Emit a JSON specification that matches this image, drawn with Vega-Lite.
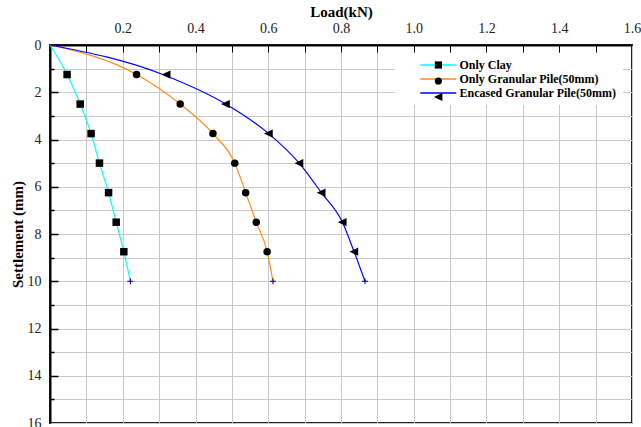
{
  "$schema": "https://vega.github.io/schema/vega-lite/v6.json",
  "width": 582,
  "height": 378,
  "autosize": "none",
  "padding": {"left": 50, "top": 45, "right": 9, "bottom": 4},
  "background": "white",
  "datasets": {
    "curves": [
      {"Series": "Only Clay", "Load": 0, "Settlement": 0},
      {"Series": "Only Clay", "Load": 0.047, "Settlement": 1.25},
      {"Series": "Only Clay", "Load": 0.083, "Settlement": 2.5},
      {"Series": "Only Clay", "Load": 0.113, "Settlement": 3.75},
      {"Series": "Only Clay", "Load": 0.136, "Settlement": 5},
      {"Series": "Only Clay", "Load": 0.161, "Settlement": 6.25},
      {"Series": "Only Clay", "Load": 0.182, "Settlement": 7.5},
      {"Series": "Only Clay", "Load": 0.203, "Settlement": 8.75},
      {"Series": "Only Clay", "Load": 0.221, "Settlement": 10},
      {"Series": "Only Granular Pile(50mm)", "Load": 0, "Settlement": 0},
      {"Series": "Only Granular Pile(50mm)", "Load": 0.238, "Settlement": 1.25},
      {"Series": "Only Granular Pile(50mm)", "Load": 0.358, "Settlement": 2.5},
      {"Series": "Only Granular Pile(50mm)", "Load": 0.448, "Settlement": 3.75},
      {"Series": "Only Granular Pile(50mm)", "Load": 0.508, "Settlement": 5},
      {"Series": "Only Granular Pile(50mm)", "Load": 0.538, "Settlement": 6.25},
      {"Series": "Only Granular Pile(50mm)", "Load": 0.567, "Settlement": 7.5},
      {"Series": "Only Granular Pile(50mm)", "Load": 0.597, "Settlement": 8.75},
      {"Series": "Only Granular Pile(50mm)", "Load": 0.613, "Settlement": 10},
      {"Series": "Encased Granular Pile(50mm)", "Load": 0, "Settlement": 0},
      {"Series": "Encased Granular Pile(50mm)", "Load": 0.31, "Settlement": 1.25},
      {"Series": "Encased Granular Pile(50mm)", "Load": 0.483, "Settlement": 2.5},
      {"Series": "Encased Granular Pile(50mm)", "Load": 0.601, "Settlement": 3.75},
      {"Series": "Encased Granular Pile(50mm)", "Load": 0.685, "Settlement": 5},
      {"Series": "Encased Granular Pile(50mm)", "Load": 0.746, "Settlement": 6.25},
      {"Series": "Encased Granular Pile(50mm)", "Load": 0.804, "Settlement": 7.5},
      {"Series": "Encased Granular Pile(50mm)", "Load": 0.836, "Settlement": 8.75},
      {"Series": "Encased Granular Pile(50mm)", "Load": 0.866, "Settlement": 10}
    ],
    "tests": [
      {"Series": "Only Clay", "Load": 0.047, "Settlement": 1.25},
      {"Series": "Only Clay", "Load": 0.083, "Settlement": 2.5},
      {"Series": "Only Clay", "Load": 0.113, "Settlement": 3.75},
      {"Series": "Only Clay", "Load": 0.136, "Settlement": 5},
      {"Series": "Only Clay", "Load": 0.161, "Settlement": 6.25},
      {"Series": "Only Clay", "Load": 0.182, "Settlement": 7.5},
      {"Series": "Only Clay", "Load": 0.203, "Settlement": 8.75},
      {"Series": "Only Granular Pile(50mm)", "Load": 0.238, "Settlement": 1.25},
      {"Series": "Only Granular Pile(50mm)", "Load": 0.358, "Settlement": 2.5},
      {"Series": "Only Granular Pile(50mm)", "Load": 0.448, "Settlement": 3.75},
      {"Series": "Only Granular Pile(50mm)", "Load": 0.508, "Settlement": 5},
      {"Series": "Only Granular Pile(50mm)", "Load": 0.538, "Settlement": 6.25},
      {"Series": "Only Granular Pile(50mm)", "Load": 0.567, "Settlement": 7.5},
      {"Series": "Only Granular Pile(50mm)", "Load": 0.597, "Settlement": 8.75},
      {"Series": "Encased Granular Pile(50mm)", "Load": 0.32, "Settlement": 1.25},
      {"Series": "Encased Granular Pile(50mm)", "Load": 0.483, "Settlement": 2.5},
      {"Series": "Encased Granular Pile(50mm)", "Load": 0.601, "Settlement": 3.75},
      {"Series": "Encased Granular Pile(50mm)", "Load": 0.685, "Settlement": 5},
      {"Series": "Encased Granular Pile(50mm)", "Load": 0.746, "Settlement": 6.25},
      {"Series": "Encased Granular Pile(50mm)", "Load": 0.804, "Settlement": 7.5},
      {"Series": "Encased Granular Pile(50mm)", "Load": 0.836, "Settlement": 8.75}
    ]
  },
  "config": {
    "font": "Liberation Serif, DejaVu Serif, serif",
    "view": {"stroke": "#222", "strokeWidth": 2},
    "axis": {"labelFont": "Liberation Serif, DejaVu Serif, serif", "titleFont": "Liberation Serif, DejaVu Serif, serif"},
    "legend": {"labelFont": "Liberation Serif, DejaVu Serif, serif"}
  },
  "resolve": {"axis": {"x": "independent", "y": "independent"}},
  "layer": [
    {
      "data": {"name": "curves"},
      "mark": {"type": "line", "interpolate": "monotone", "strokeWidth": 1.2},
      "encoding": {
        "x": {
          "field": "Load", "type": "quantitative",
          "scale": {"domain": [0, 1.6], "nice": false, "zero": false},
          "axis": {
            "orient": "top",
            "values": [0.1,0.2,0.3,0.4,0.5,0.6,0.7,0.8,0.9,1.0,1.1,1.2,1.3,1.4,1.5,1.6],
            "labelExpr": "round(datum.value*10) % 2 == 0 ? format(datum.value, '.1f') : ''",
            "ticks": false, "grid": true, "gridColor": "#c8c8c8", "gridWidth": 1,
            "domainColor": "black", "domainWidth": 2,
            "labelFontSize": 14, "labelColor": "#222", "labelPadding": 10,
            "labelFlush": false, "labelOverlap": false, "labelBound": false,
            "title": "Load(kN)", "titleFontSize": 15, "titleFontWeight": "bold", "titleColor": "black", "titlePadding": 2
          }
        },
        "y": {
          "field": "Settlement", "type": "quantitative",
          "scale": {"domain": [0, 16], "nice": false, "reverse": true},
          "axis": {
            "orient": "left",
            "values": [0,1,2,3,4,5,6,7,8,9,10,11,12,13,14,15,16],
            "labelExpr": "datum.value % 2 == 0 ? datum.label : ''",
            "ticks": false, "grid": true, "gridColor": "#c8c8c8", "gridWidth": 1,
            "domainColor": "black", "domainWidth": 2,
            "labelFontSize": 14, "labelColor": "#222", "labelPadding": 9,
            "labelFlush": false, "labelOverlap": false, "labelBound": false,
            "title": "Settlement (mm)", "titleFontSize": 15, "titleFontWeight": "bold", "titleColor": "black", "titlePadding": 2
          }
        },
        "color": {
          "field": "Series", "type": "nominal",
          "sort": ["Only Clay", "Only Granular Pile(50mm)", "Encased Granular Pile(50mm)"],
          "scale": {"range": ["#00FFFF", "#FF8C1A", "#0000FF"]},
          "legend": {
            "orient": "none", "legendX": 345, "legendY": 8, "title": null,
            "padding": 6, "fillColor": "white",
            "symbolType": "M-3.6,0H3.6", "symbolSize": 100, "symbolStrokeWidth": 1.5,
            "symbolOffset": 31.25, "labelOffset": 15.25,
            "labelFontSize": 12, "labelFontWeight": "bold", "labelColor": "black",
            "rowPadding": 2, "labelLimit": 300
          }
        }
      }
    },
    {
      "data": {"name": "tests"},
      "mark": {"type": "point", "filled": true, "color": "black", "opacity": 1, "size": 56},
      "encoding": {
        "x": {
          "field": "Load", "type": "quantitative",
          "axis": {
            "orient": "top",
            "values": [0.1,0.2,0.3,0.4,0.5,0.6,0.7,0.8,0.9,1.0,1.1,1.2,1.3,1.4,1.5],
            "tickSize": -7, "tickColor": "black", "tickWidth": 1,
            "labels": false, "grid": false, "domain": false, "title": null
          }
        },
        "y": {
          "field": "Settlement", "type": "quantitative",
          "axis": {
            "orient": "left",
            "values": [2,4,6,8,10,12,14],
            "tickSize": -8, "tickColor": "black", "tickWidth": 1.5,
            "labels": false, "grid": false, "domain": false, "title": null
          }
        },
        "shape": {
          "field": "Series", "type": "nominal",
          "sort": ["Only Clay", "Only Granular Pile(50mm)", "Encased Granular Pile(50mm)"],
          "scale": {"range": ["square", "circle", "M-1.25,0L1.1,-1.1L1.1,1.1Z"]},
          "legend": {
            "orient": "none", "legendX": 376.4, "legendY": 8, "title": null,
            "padding": 6, "symbolSize": 52,
            "symbolFillColor": "black", "symbolStrokeColor": "black",
            "labelFontSize": 12, "labelFontWeight": "bold", "labelExpr": "''",
            "labelOffset": 18.4,
            "rowPadding": 2, "labelLimit": 300
          }
        }
      }
    },
    {
      "data": {"name": "curves"},
      "transform": [{"filter": "datum.Settlement == 10"}],
      "mark": {"type": "point", "shape": "M-1,0H1M0,-1V1", "size": 36, "filled": false, "stroke": "#000080", "strokeWidth": 1, "opacity": 1},
      "encoding": {
        "x": {"field": "Load", "type": "quantitative", "axis": null},
        "y": {
          "field": "Settlement", "type": "quantitative",
          "axis": {
            "orient": "left",
            "values": [1,3,5,7,9,11,13,15],
            "tickSize": -4, "tickColor": "black", "tickWidth": 1.5,
            "labels": false, "grid": false, "domain": false, "title": null
          }
        }
      }
    }
  ]
}
